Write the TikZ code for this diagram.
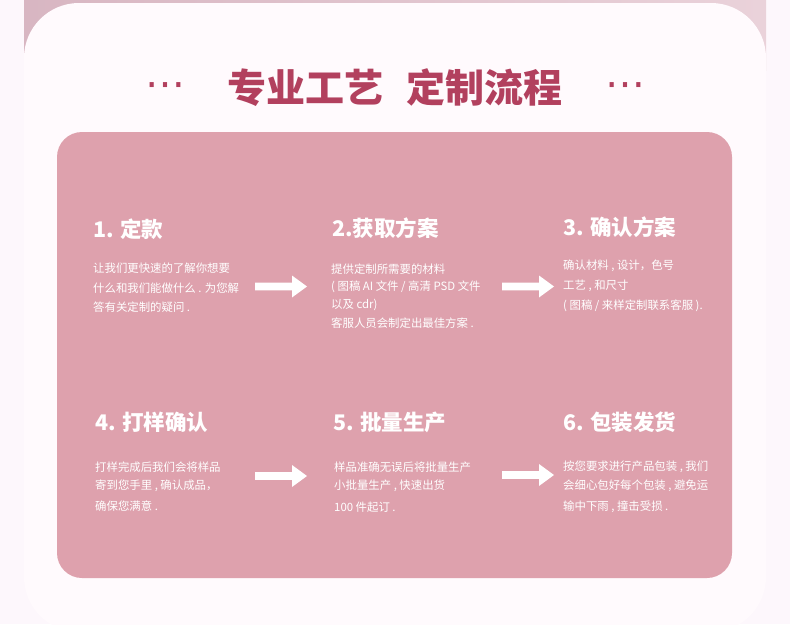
\documentclass[tikz,border=0pt]{standalone}
\usepackage{fontspec}
\newfontfamily\cjk{Noto Sans CJK SC}
\newfontfamily\djv{DejaVu Sans}
\definecolor{pagebg}{HTML}{FDF7FC}
\definecolor{bandL}{HTML}{D8B6C2}
\definecolor{bandR}{HTML}{EAD2DA}
\definecolor{cardbg}{HTML}{FFFAFD}
\definecolor{panel}{HTML}{DEA1AD}
\definecolor{titlered}{HTML}{B2405E}
\tikzset{
  steptitle/.style={anchor=west, inner sep=0pt, text=white, font=\cjk\bfseries\fontsize{21.5}{24}\selectfont},
  bodyline/.style={anchor=west, inner sep=0pt, text=white, font=\cjk\fontsize{11.4}{13}\selectfont},
  arrowfill/.style={fill=white},
  dots/.style={inner sep=0pt, text=titlered, font=\djv\fontsize{40}{40}\selectfont},
}
\newcommand\blockarrow[1]{%
  \fill[arrowfill] (#1) ++(0,-3.8) -- ++(37,0) -- ++(0,-7.2) -- ++(15,11) -- ++(-15,11) -- ++(0,-7.2) -- ++(-37,0) -- cycle;}
\begin{document}
\begin{tikzpicture}[x=1pt,y=-1pt]
\useasboundingbox (0,0) rectangle (790,624);
\fill[pagebg] (0,0) rectangle (790,624);
% top band
\shade[left color=bandL, right color=bandR] (24,0) rectangle (766,70);
% card
\fill[cardbg, rounded corners=55pt] (24,3) rectangle (766,632);
% heading
\node[inner sep=0pt, text=titlered, font=\cjk\bfseries\fontsize{39}{42}\selectfont] (head) at (395,88) {专业工艺\hspace{24pt}定制流程};
\node[dots] (dotl) at (165,90) {⋯};
\node[dots] (dotr) at (625,90) {⋯};
% panel
\fill[panel, rounded corners=25pt] (57,132) rectangle (732,578);
% step titles
\node[steptitle] (t1) at (93,229) {1. 定款};
\node[steptitle] (t2) at (332,228) {2.获取方案};
\node[steptitle] (t3) at (563,227) {3. 确认方案};
\node[steptitle] (t4) at (95,422) {4. 打样确认};
\node[steptitle] (t5) at (333,422) {5. 批量生产};
\node[steptitle] (t6) at (563,422) {6. 包装发货};
% step 1
\node[bodyline] (b1a) at (93,268) {让我们更快速的了解你想要};
\node[bodyline] (b1b) at (93,288) {什么和我们能做什么 . 为您解};
\node[bodyline] (b1c) at (93,307) {答有关定制的疑问 .};
% step 2
\node[bodyline] (b2a) at (331,269) {提供定制所需要的材料};
\node[bodyline] (b2b) at (331,287) {( 图稿 AI 文件 / 高清 PSD 文件};
\node[bodyline] (b2c) at (331,305) {以及 cdr)};
\node[bodyline] (b2d) at (331,323) {客服人员会制定出最佳方案 .};
% step 3
\node[bodyline] (b3a) at (563,266) {确认材料 , 设计，色号};
\node[bodyline] (b3b) at (563,286) {工艺 , 和尺寸};
\node[bodyline] (b3c) at (563,306) {( 图稿 / 来样定制联系客服 ).};
% step 4
\node[bodyline] (b4a) at (95,467) {打样完成后我们会将样品};
\node[bodyline] (b4b) at (95,486) {寄到您手里 , 确认成品，};
\node[bodyline] (b4c) at (95,506) {确保您满意 .};
% step 5
\node[bodyline] (b5a) at (334,467) {样品准确无误后将批量生产};
\node[bodyline] (b5b) at (334,486) {小批量生产 , 快速出货};
\node[bodyline] (b5c) at (334,507) {100 件起订 .};
% step 6
\node[bodyline] (b6a) at (563,467) {按您要求进行产品包装 , 我们};
\node[bodyline] (b6b) at (563,486) {会细心包好每个包装 , 避免运};
\node[bodyline] (b6c) at (563,507) {输中下雨 , 撞击受损 .};
% arrows
\coordinate (a1) at (255,286.5);
\coordinate (a2) at (502,286.5);
\coordinate (a3) at (255,476);
\coordinate (a4) at (502,475);
\blockarrow{a1}
\blockarrow{a2}
\blockarrow{a3}
\blockarrow{a4}
\end{tikzpicture}
\end{document}
